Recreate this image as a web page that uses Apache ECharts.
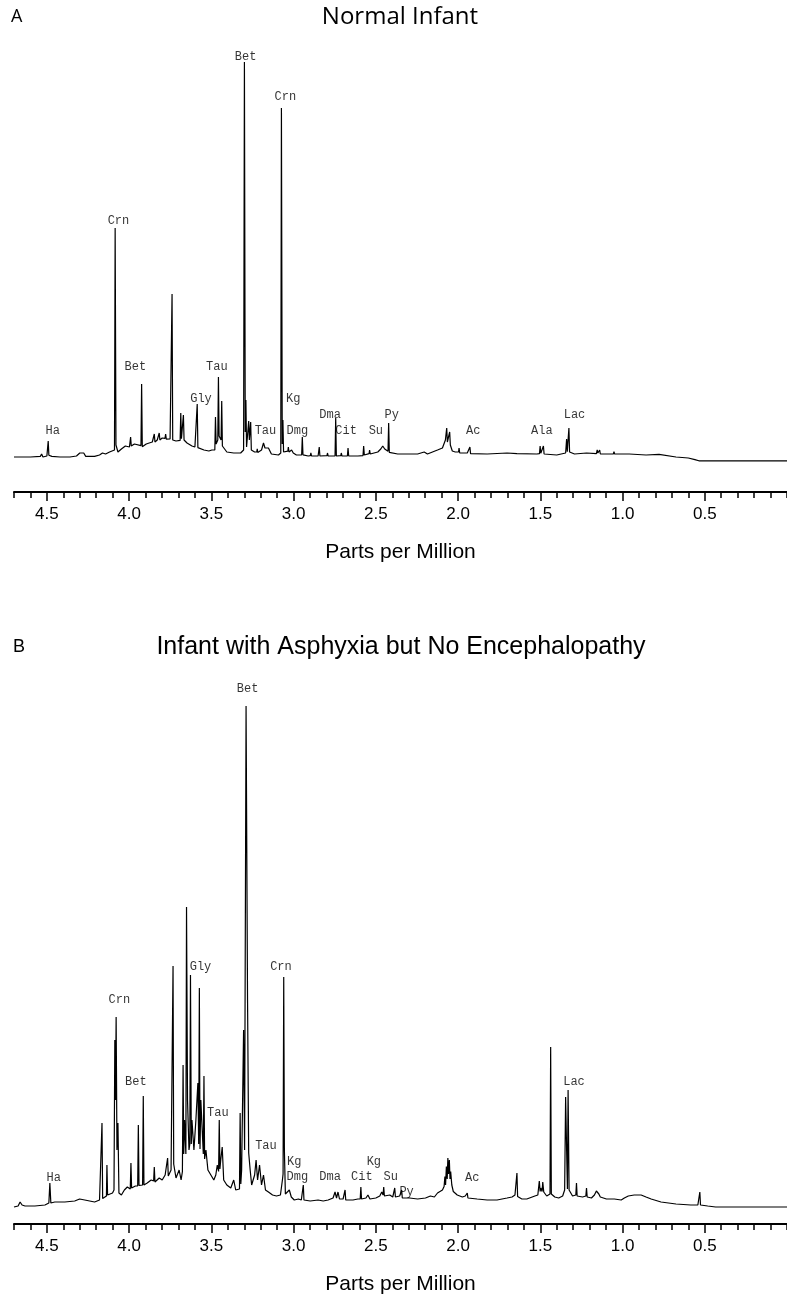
<!DOCTYPE html>
<html>
<head>
<meta charset="utf-8">
<script src="https://cdn.jsdelivr.net/npm/echarts@6/dist/echarts.min.js"></script>
<style>html,body{margin:0;padding:0;background:#fff}#c{width:787px;height:1297px}</style>
</head>
<body>
<div id="c"></div>
<script>
// ---- data (ppm, intensity in arbitrary units) ----
const panelLetters = ['A', 'B'];
const panelTitles = ['Normal Infant', 'Infant with Asphyxia but No Encephalopathy'];
const axisName = 'Parts per Million';
const majorTicks = [4.5, 4.0, 3.5, 3.0, 2.5, 2.0, 1.5, 1.0, 0.5];

const specA = [[4.70,8.75],[4.60,8.75],[4.54,8.9],[4.532,9.5],[4.524,8.75],[4.50,9.0],[4.496,9.1],[4.492,12.75],[4.488,9.2],[4.47,8.9],[4.42,8.75],[4.36,8.75],[4.32,9.0],[4.30,9.75],[4.289,9.25],[4.276,9.75],[4.264,8.9],[4.21,8.9],[4.18,9.25],[4.162,9.75],[4.143,9.5],[4.119,10.0],[4.107,10.5],[4.089,10.5],[4.085,66],[4.080,11.75],[4.068,10.0],[4.047,10.75],[4.023,11.5],[3.998,11.25],[3.994,11.5],[3.991,13.75],[3.987,11.5],[3.968,12.0],[3.956,11.5],[3.928,11.6],[3.924,27],[3.920,11.3],[3.896,12.0],[3.878,12.25],[3.859,12.5],[3.850,12.6],[3.847,14.5],[3.843,12.5],[3.829,13.0],[3.820,13.2],[3.817,14.75],[3.813,13.0],[3.799,13.5],[3.782,13.4],[3.778,14.5],[3.774,13.2],[3.751,13.25],[3.743,13.1],[3.739,49.5],[3.735,13.0],[3.715,12.75],[3.690,12.9],[3.686,19.75],[3.682,13.3],[3.674,13.2],[3.670,19.25],[3.666,13.0],[3.648,12.25],[3.618,11.5],[3.600,11.25],[3.590,11.3],[3.586,22],[3.582,11.1],[3.545,10.5],[3.515,10.25],[3.497,10.5],[3.485,10.25],[3.479,10.5],[3.475,18.75],[3.471,12.0],[3.461,13.0],[3.457,28.75],[3.453,14.0],[3.441,13.0],[3.437,22.75],[3.433,11.5],[3.428,11.0],[3.406,10.0],[3.364,9.75],[3.322,9.75],[3.304,10.5],[3.299,107.5],[3.294,15],[3.290,23],[3.286,11.25],[3.276,11.2],[3.273,17.75],[3.269,13.0],[3.264,12.8],[3.261,17.5],[3.257,10.5],[3.237,10.0],[3.224,10.0],[3.221,10.8],[3.218,9.9],[3.195,10.5],[3.183,12.25],[3.174,11.0],[3.165,11.5],[3.153,11.0],[3.135,9.5],[3.092,9.25],[3.078,9.75],[3.074,96],[3.069,12],[3.065,18],[3.061,10.0],[3.035,10.2],[3.032,11.25],[3.028,10.0],[3.012,10.5],[3.002,9.75],[2.983,9.25],[2.951,9.3],[2.947,13.75],[2.943,9.3],[2.911,9.0],[2.898,9.1],[2.895,9.8],[2.891,9.0],[2.851,9.0],[2.847,9.1],[2.844,11.25],[2.840,9.0],[2.797,9.1],[2.794,9.75],[2.790,9.0],[2.748,9.0],[2.744,18.5],[2.740,9.0],[2.713,9.1],[2.710,9.75],[2.706,9.0],[2.673,9.0],[2.669,11.0],[2.665,9.0],[2.609,9.0],[2.578,9.1],[2.574,11.5],[2.570,9.25],[2.541,9.6],[2.538,10.5],[2.534,9.5],[2.488,10.0],[2.470,10.75],[2.458,11.5],[2.446,10.75],[2.434,10.25],[2.426,10.2],[2.422,17.25],[2.418,9.9],[2.367,9.5],[2.307,9.5],[2.246,9.5],[2.206,10.0],[2.186,9.5],[2.125,10.5],[2.095,11.0],[2.077,13.0],[2.072,12.5],[2.069,16],[2.065,12.5],[2.054,12.6],[2.051,15],[2.047,11.75],[2.035,10.25],[2.017,10.0],[1.997,10.0],[1.994,11.0],[1.990,9.75],[1.944,9.75],[1.932,9.7],[1.928,11.25],[1.924,9.6],[1.823,9.5],[1.702,9.75],[1.642,9.6],[1.521,9.5],[1.505,9.6],[1.501,11.5],[1.497,9.7],[1.485,9.7],[1.481,11.5],[1.477,9.5],[1.400,9.25],[1.346,9.75],[1.343,9.9],[1.340,13.25],[1.336,10.1],[1.330,10.1],[1.326,16],[1.322,10.0],[1.292,9.5],[1.219,9.75],[1.159,9.6],[1.156,9.7],[1.154,10.5],[1.150,9.75],[1.142,9.8],[1.139,10.5],[1.135,9.5],[1.056,9.5],[1.052,10.1],[1.048,9.5],[0.959,9.5],[0.857,9.25],[0.778,9.4],[0.675,8.75],[0.600,8.5],[0.560,8.1],[0.536,7.8],[0.0,7.8]];

const specB = [[4.70,3.4],[4.675,3.6],[4.663,4.4],[4.651,3.8],[4.633,3.6],[4.573,3.6],[4.512,3.8],[4.488,4.2],[4.482,8.2],[4.476,4.2],[4.452,4.4],[4.391,4.4],[4.331,4.6],[4.301,5.0],[4.270,4.8],[4.210,4.4],[4.180,4.8],[4.169,5.0],[4.165,20.2],[4.161,5.1],[4.138,5.6],[4.135,11.8],[4.131,5.8],[4.119,5.8],[4.101,6.2],[4.092,6.8],[4.087,36.8],[4.083,24.8],[4.079,41.4],[4.074,14.8],[4.068,20.2],[4.062,6.2],[4.047,5.8],[4.029,6.8],[4.011,7.4],[3.993,7.0],[3.989,12.2],[3.985,7.2],[3.962,7.6],[3.948,7.6],[3.944,19.8],[3.940,7.7],[3.918,7.8],[3.914,25.6],[3.910,7.8],[3.890,8.2],[3.878,7.8],[3.866,8.8],[3.851,8.6],[3.847,11.4],[3.843,8.4],[3.817,9.2],[3.799,8.8],[3.781,9.8],[3.770,9.6],[3.766,13.2],[3.762,9.6],[3.745,10.8],[3.737,11.0],[3.733,51.6],[3.729,12.0],[3.715,9.2],[3.696,10.8],[3.684,8.8],[3.676,10.5],[3.672,31.8],[3.668,14],[3.663,20.8],[3.655,14],[3.651,63.4],[3.645,24.8],[3.636,14.8],[3.631,16],[3.627,49.8],[3.622,16],[3.618,20.8],[3.606,14.8],[3.594,20.8],[3.582,28.2],[3.577,16],[3.573,47.2],[3.569,15],[3.564,24.8],[3.549,14],[3.545,29.6],[3.541,13],[3.533,14.8],[3.521,10.8],[3.503,9.8],[3.485,8.8],[3.473,9.8],[3.464,11.8],[3.456,10.5],[3.452,20.8],[3.448,11.0],[3.443,12.8],[3.434,15.4],[3.425,8.8],[3.406,7.8],[3.382,7.2],[3.364,8.8],[3.352,6.8],[3.340,6.8],[3.329,7.0],[3.325,22.2],[3.321,8.0],[3.316,10.8],[3.304,38.8],[3.298,14.8],[3.289,103.6],[3.280,44.8],[3.273,14.2],[3.264,10.8],[3.255,7.8],[3.237,9.8],[3.228,12.8],[3.219,8.8],[3.207,11.8],[3.195,7.8],[3.183,9.8],[3.171,6.8],[3.153,6.4],[3.128,5.8],[3.104,5.6],[3.080,5.8],[3.068,8.8],[3.064,10],[3.060,49.4],[3.056,14.8],[3.050,6.0],[3.044,5.6],[3.026,6.8],[3.014,5.4],[2.996,4.8],[2.971,5.0],[2.953,4.8],[2.945,4.9],[2.941,7.8],[2.937,4.8],[2.899,4.6],[2.851,4.8],[2.820,4.6],[2.790,4.8],[2.760,5.2],[2.748,6.4],[2.739,5.2],[2.730,6.4],[2.721,5.0],[2.699,5.0],[2.691,5.0],[2.687,6.8],[2.683,4.8],[2.639,4.8],[2.609,5.0],[2.595,5.0],[2.591,7.4],[2.587,5.0],[2.560,5.2],[2.548,5.8],[2.536,5.0],[2.500,5.2],[2.476,5.6],[2.464,6.4],[2.456,5.8],[2.452,7.4],[2.448,5.6],[2.415,5.8],[2.397,5.4],[2.389,5.4],[2.385,7.2],[2.381,5.4],[2.355,5.6],[2.347,5.5],[2.343,6.8],[2.339,5.2],[2.295,5.2],[2.246,5.0],[2.198,5.2],[2.168,5.6],[2.156,5.8],[2.144,5.4],[2.125,6.2],[2.113,5.8],[2.095,6.8],[2.085,7.5],[2.080,9.5],[2.076,7.8],[2.071,11.5],[2.066,9.0],[2.062,13.2],[2.058,10.0],[2.053,12.8],[2.049,9.0],[2.045,10.5],[2.038,7.8],[2.029,6.5],[2.005,5.8],[1.974,5.4],[1.956,5.6],[1.948,5.5],[1.944,6.2],[1.940,5.2],[1.884,5.0],[1.823,4.8],[1.763,4.8],[1.702,5.2],[1.672,5.4],[1.654,5.8],[1.646,5.6],[1.642,10.2],[1.638,5.5],[1.612,5.0],[1.582,5.0],[1.533,5.6],[1.515,5.8],[1.509,6.0],[1.506,8.6],[1.501,6.5],[1.497,7.2],[1.489,6.5],[1.485,8.4],[1.479,6.4],[1.461,5.6],[1.449,5.8],[1.441,6.0],[1.437,35.4],[1.433,6.0],[1.412,5.4],[1.388,5.2],[1.364,5.6],[1.352,6.8],[1.346,25.4],[1.340,14.8],[1.335,7.0],[1.331,26.8],[1.325,6.8],[1.304,5.6],[1.292,5.8],[1.284,5.8],[1.280,8.2],[1.276,5.6],[1.243,5.4],[1.223,5.6],[1.219,7.2],[1.215,5.4],[1.189,5.2],[1.171,5.8],[1.163,6.0],[1.159,6.6],[1.154,6.2],[1.150,6.6],[1.144,6.0],[1.135,5.4],[1.098,5.0],[1.050,5.0],[1.008,4.8],[0.989,5.2],[0.965,5.6],[0.929,5.8],[0.887,5.8],[0.857,5.4],[0.826,5.0],[0.766,4.4],[0.675,4.0],[0.585,3.8],[0.542,3.8],[0.534,3.8],[0.530,6.4],[0.526,3.8],[0.482,3.6],[0.434,3.4],[0.0,3.4]];

// peak labels: [name, ppm, intensity]
const labelsA = [['Ha',4.464,15.25],['Crn',4.065,67.75],['Bet',3.962,31.25],['Gly',3.563,23.25],['Tau',3.467,31.25],['Bet',3.292,108.75],['Crn',3.050,98.75],['Tau',3.171,15.25],['Kg',3.002,23.25],['Dmg',2.977,15.25],['Dma',2.778,19.25],['Cit',2.681,15.25],['Su',2.500,15.25],['Py',2.403,19.25],['Ac',1.908,15.25],['Ala',1.491,15.25],['Lac',1.292,19.25]];
const labelsB = [['Bet',3.280,107],['Crn',4.059,44.8],['Bet',3.959,28.4],['Gly',3.566,51.4],['Crn',3.077,51.4],['Tau',3.461,22.2],['Tau',3.168,15.6],['Kg',2.996,12.4],['Kg',2.512,12.4],['Ha',4.458,9.2],['Dmg',2.977,9.4],['Dma',2.778,9.4],['Cit',2.585,9.4],['Su',2.409,9.4],['Py',2.313,6.4],['Ac',1.914,9.2],['Lac',1.295,28.4]];

// ---- chart ----
const chart = echarts.init(document.getElementById('c'), null, {renderer: 'canvas'});
const grids = [
  {left: 14, width: 778, top: 52, height: 440},
  {left: 14, width: 778, top: 674, height: 550}
];
function minorAxis(g) {
  return {type: 'value', gridIndex: g, min: 0, max: 4.7, interval: 0.1, inverse: true, position: 'bottom',
    axisLine: {show: true, lineStyle: {color: '#000', width: 2}},
    axisTick: {show: true, length: 6, lineStyle: {color: '#000', width: 1.5}},
    axisLabel: {show: false}, splitLine: {show: false}};
}
function majorAxis(g) {
  return {type: 'value', gridIndex: g, min: 0, max: 4.7, interval: 0.5, inverse: true, position: 'bottom',
    axisLine: {show: false},
    axisTick: {show: true, length: 9, customValues: majorTicks, lineStyle: {color: '#000', width: 1.5}},
    axisLabel: {show: true, customValues: majorTicks, formatter: v => v.toFixed(1), margin: 14,
      fontSize: 17, fontFamily: 'Liberation Sans', color: '#000'},
    splitLine: {show: false},
    name: axisName, nameLocation: 'middle', nameGap: 50,
    nameTextStyle: {fontSize: 21, fontFamily: 'Liberation Sans', color: '#000'}};
}
function labelSeries(list, g) {
  return {type: 'scatter', xAxisIndex: g * 2, yAxisIndex: g, symbolSize: 1, silent: true, z: 5,
    itemStyle: {color: 'rgba(0,0,0,0)'},
    label: {show: true, position: 'inside', formatter: '{b}', fontFamily: 'Liberation Mono', fontSize: 12, color: '#000'},
    data: list.map(l => ({name: l[0], value: [l[1], l[2]]}))};
}
function specSeries(data, g) {
  return {type: 'line', xAxisIndex: g * 2, yAxisIndex: g, showSymbol: false, symbol: 'none', silent: true,
    lineStyle: {color: '#000', width: 1.2}, data: data};
}
chart.setOption({
  animation: false,
  grid: grids,
  xAxis: [minorAxis(0), majorAxis(0), minorAxis(1), majorAxis(1)],
  yAxis: [
    {type: 'value', gridIndex: 0, min: 0, max: 110, show: false},
    {type: 'value', gridIndex: 1, min: 0, max: 110, show: false}
  ],
  graphic: [
    {type: 'text', x: 11, y: 17, style: {text: panelLetters[0], fontSize: 18, fontFamily: 'Open Sans', fill: '#000', align: 'left', verticalAlign: 'middle'}},
    {type: 'text', x: 400, y: 17, style: {text: panelTitles[0], fontSize: 24, fontFamily: 'Open Sans', fill: '#000', align: 'center', verticalAlign: 'middle'}},
    {type: 'text', x: 13, y: 647, style: {text: panelLetters[1], fontSize: 18, fontFamily: 'Liberation Sans', fill: '#000', align: 'left', verticalAlign: 'middle'}},
    {type: 'text', x: 401, y: 647, style: {text: panelTitles[1], fontSize: 25, fontFamily: 'Liberation Sans', fill: '#000', align: 'center', verticalAlign: 'middle'}}
  ],
  series: [specSeries(specA, 0), labelSeries(labelsA, 0), specSeries(specB, 1), labelSeries(labelsB, 1)]
});
</script>
</body>
</html>
